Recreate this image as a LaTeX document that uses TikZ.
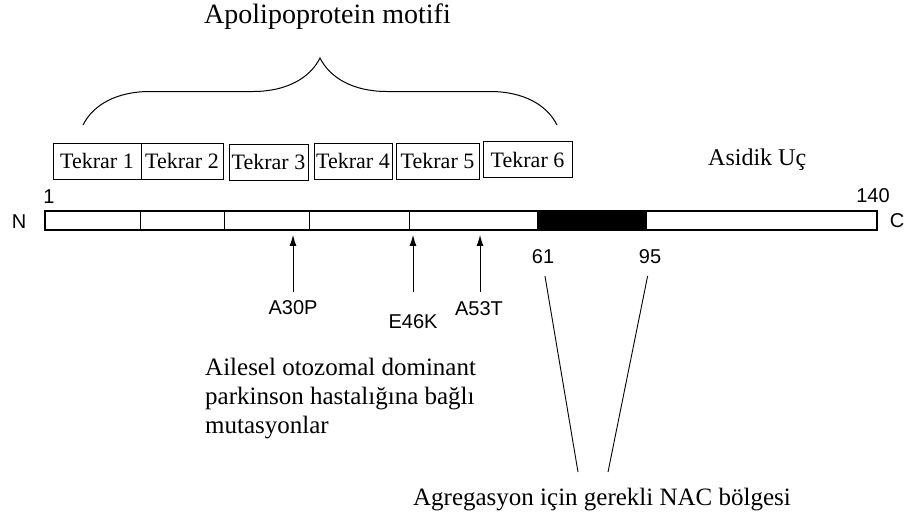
\documentclass[tikz,border=0pt]{standalone}
\usepackage{fontspec}
\setmainfont{Liberation Serif}
\setsansfont{Liberation Sans}
\usetikzlibrary{arrows.meta,decorations.pathreplacing}

\begin{document}
\begin{tikzpicture}[x=1pt,y=-1pt]
  \tikzstyle{tekrar}=[draw,line width=0.9pt,minimum height=36pt,inner sep=0pt,font=\fontsize{22}{24}\selectfont]
  \tikzstyle{etiket}=[inner sep=0pt,font=\sffamily\fontsize{20}{22}\selectfont]
  \tikzstyle{metin}=[inner sep=0pt,font=\fontsize{25}{29}\selectfont]
  \tikzstyle{mut}=[line width=1pt,-{Latex[length=11pt,width=7pt]},shorten >=4pt]
  \useasboundingbox (0,0) rectangle (909,520);
  \node[metin,font=\fontsize{28}{32}\selectfont,anchor=base] (apo) at (327.5,23.5) {Apolipoprotein motifi};
  \draw[line width=1pt,decorate,decoration={brace,amplitude=67pt}] (83,125) -- (557,125);
  \node[tekrar,minimum width=88pt] (t1) at (97,161) {Tekrar 1};
  \node[tekrar,minimum width=82pt] (t2) at (182,161) {Tekrar 2};
  \node[tekrar,minimum width=79pt] (t3) at (268.5,162) {Tekrar 3};
  \node[tekrar,minimum width=78pt] (t4) at (353,161) {Tekrar 4};
  \node[tekrar,minimum width=83pt] (t5) at (437.5,161) {Tekrar 5};
  \node[tekrar,minimum width=89pt] (t6) at (527.5,159.5) {Tekrar 6};
  \node[metin,font=\fontsize{24}{28}\selectfont,anchor=base west] (asidik) at (708,165) {Asidik Uç};
  \node[draw,line width=1.8pt,minimum width=832pt,minimum height=19pt,inner sep=0pt] (bar) at (461,220.5) {};
  \fill (537,211) rectangle (647,230);
  \foreach \x in {140,224,309,409} \draw[line width=0.8pt] (\x,211) -- (\x,230);
  \node[etiket] (n) at (19,222) {N};
  \node[etiket] (c) at (897,221) {C};
  \node[etiket] (bir) at (49,197) {1};
  \node[etiket] (yuzkirk) at (873,196) {140};
  \node[etiket] (a61) at (543,257) {61};
  \node[etiket] (a95) at (650,257) {95};
  \node[etiket] (a30p) at (293,308) {A30P};
  \node[etiket] (e46k) at (413,322) {E46K};
  \node[etiket] (a53t) at (479,309) {A53T};
  \coordinate (m1) at (293,292);
  \coordinate (m2) at (413,292);
  \coordinate (m3) at (480,292);
  \foreach \m in {m1,m2,m3} \draw[mut] (\m) -- (\m |- bar.south);
  \node[metin,align=left,anchor=north west] (ailesel) at (205,357.5) {Ailesel otozomal dominant\\parkinson hastalığına bağlı\\mutasyonlar};
  \node[metin,anchor=base] (nac) at (602,505) {Agregasyon için gerekli NAC bölgesi};
  \coordinate (nac1) at (578,472);
  \coordinate (nac2) at (608,472);
  \draw[line width=0.9pt,shorten <=12pt] (a61.south) -- (nac1);
  \draw[line width=0.9pt,shorten <=12pt] (a95.south) -- (nac2);
\end{tikzpicture}
\end{document}
